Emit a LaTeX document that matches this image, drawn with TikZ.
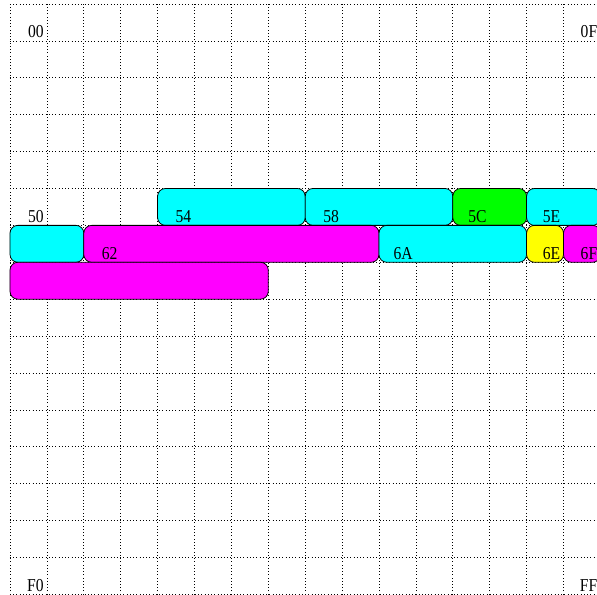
\documentclass[tikz,border=0pt]{standalone}
\usepackage{fontspec}
\newfontfamily\addrfont[FakeStretch=0.86]{Liberation Serif}
\usepackage{tikz}
\usetikzlibrary{positioning}
\definecolor{memcyan}{RGB}{0,255,255}
\definecolor{memmagenta}{RGB}{255,0,255}
\definecolor{memgreen}{RGB}{0,255,0}
\definecolor{memyellow}{RGB}{255,255,0}

\begin{document}
\begin{tikzpicture}[
  cell/.style={rectangle, draw, rounded corners=6pt, line width=0.6pt,
    minimum height=1cm, inner sep=0pt, outer sep=0pt, anchor=north west},
  addr/.style={font=\addrfont\fontsize{14}{15}\selectfont, inner sep=0pt, anchor=base east},
  gridline/.style={dotted, line width=0.5pt}
]
\useasboundingbox (-0.271,0.108) rectangle (15.908,-15.99);
\draw[gridline] (0,0) grid (16,-16);

% row 5
\node[cell, fill=memcyan,    minimum width=4cm] (b54) at (4,-5)  {};
\node[cell, fill=memcyan,    minimum width=4cm] (b58) at (8,-5)  {};
\node[cell, fill=memgreen,   minimum width=2cm] (b5C) at (12,-5) {};
\node[cell, fill=memcyan,    minimum width=2cm] (b5E) at (14,-5) {};
% row 6
\node[cell, fill=memcyan,    minimum width=2cm] (b60) at (0,-6)  {};
\node[cell, fill=memmagenta, minimum width=8cm] (b62) at (2,-6)  {};
\node[cell, fill=memcyan,    minimum width=4cm] (b6A) at (10,-6) {};
\node[cell, fill=memyellow,  minimum width=1cm] (b6E) at (14,-6) {};
\node[cell, fill=memmagenta, minimum width=1cm] (b6F) at (15,-6) {};
% row 7
\node[cell, fill=memmagenta, minimum width=7cm] (b70) at (0,-7)  {};

\foreach \c/\r/\txt in {0/0/00, 15/0/0F, 0/5/50, 4/5/54, 8/5/58, 12/5/5C,
    14/5/5E, 2/6/62, 10/6/6A, 14/6/6E, 15/6/6F, 0/15/F0, 15/15/FF}
  \node[addr] (a\txt) at (\c+0.92,-\r-0.92) {\txt};
\end{tikzpicture}
\end{document}
